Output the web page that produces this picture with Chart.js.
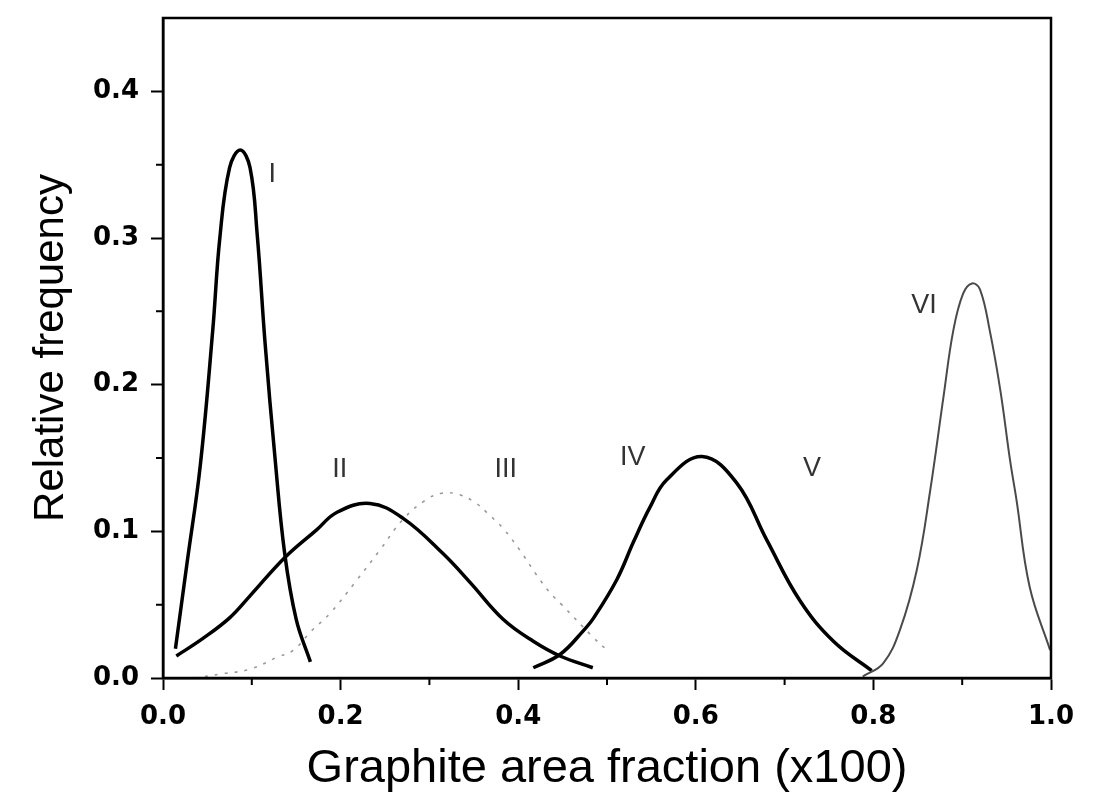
<!DOCTYPE html>
<html>
<head>
<meta charset="utf-8">
<script src="https://cdn.jsdelivr.net/npm/chart.js@4.4.1/dist/chart.umd.min.js"></script>
<style>
  body { margin: 0; background: #fff; }
  #wrap { width: 1095px; height: 800px; }
</style>
</head>
<body>
<div id="wrap"><canvas id="freqChart"></canvas></div>
<script>
// Courbes (x = fraction de graphite, y = fréquence relative)
const curveIX = [0.014, 0.027, 0.042, 0.056, 0.064, 0.075, 0.087, 0.098, 0.106, 0.115, 0.126, 0.137, 0.150, 0.166];
const curveIY = [0.020, 0.078, 0.145, 0.237, 0.300, 0.348, 0.360, 0.348, 0.303, 0.228, 0.151, 0.085, 0.040, 0.011];

const curveIIX = [0.015, 0.045, 0.075, 0.098, 0.137, 0.173, 0.196, 0.233, 0.270, 0.315, 0.346, 0.383, 0.417, 0.447, 0.484];
const curveIIY = [0.015, 0.027, 0.041, 0.056, 0.082, 0.101, 0.113, 0.119, 0.109, 0.085, 0.065, 0.040, 0.025, 0.015, 0.007];

const curveIIIX = [0.036, 0.068, 0.098, 0.128, 0.147, 0.167, 0.188, 0.216, 0.244, 0.270, 0.295, 0.314, 0.334, 0.353, 0.366, 0.383, 0.402, 0.421, 0.436, 0.449, 0.484, 0.500];
const curveIIIY = [0.000, 0.003, 0.006, 0.014, 0.019, 0.032, 0.044, 0.065, 0.087, 0.108, 0.121, 0.126, 0.125, 0.119, 0.112, 0.102, 0.087, 0.070, 0.058, 0.050, 0.028, 0.019];

const curveIVX = [0.417, 0.447, 0.473, 0.485, 0.511, 0.530, 0.548, 0.567, 0.607, 0.646, 0.680, 0.717, 0.755, 0.798];
const curveIVY = [0.007, 0.016, 0.032, 0.041, 0.067, 0.093, 0.116, 0.135, 0.151, 0.133, 0.094, 0.053, 0.025, 0.005];

const curveVIX = [0.788, 0.811, 0.830, 0.849, 0.864, 0.879, 0.890, 0.901, 0.911, 0.920, 0.931, 0.943, 0.954, 0.961, 0.976, 0.999];
const curveVIY = [0.001, 0.010, 0.033, 0.074, 0.128, 0.192, 0.237, 0.262, 0.269, 0.265, 0.237, 0.196, 0.148, 0.122, 0.062, 0.019];

// Étiquettes des courbes
const labelNames = ['I', 'II', 'III', 'IV', 'V', 'VI'];
const labelX = [0.123, 0.199, 0.386, 0.529, 0.731, 0.857];
const labelY = [0.343, 0.142, 0.142, 0.150, 0.143, 0.254];

// Graduations
const xMinorTicks = [0.1, 0.3, 0.5, 0.7, 0.9];
const yMinorTicks = [0.05, 0.15, 0.25, 0.35];

function toPoints(xs, ys) {
    return xs.map((x, i) => ({ x: x, y: ys[i] }));
}

function lineSet(xs, ys, color, width, dash) {
    return {
        data: toPoints(xs, ys),
        borderColor: color,
        borderWidth: width,
        borderDash: dash || [],
        pointRadius: 0,
        fill: false,
        tension: 0.4
    };
}

// Cadre, petites graduations et étiquettes
const framePlugin = {
    id: 'frame',
    afterDatasetsDraw(chart) {
        const ctx = chart.ctx;
        const a = chart.chartArea;
        const xs = chart.scales.x;
        const ys = chart.scales.y;
        ctx.save();
        ctx.strokeStyle = '#000';
        ctx.lineWidth = 2.5;
        ctx.strokeRect(a.left, a.top, a.right - a.left, a.bottom - a.top);

        ctx.lineWidth = 2;
        ctx.beginPath();
        xMinorTicks.forEach(v => {
            const px = xs.getPixelForValue(v);
            ctx.moveTo(px, a.bottom);
            ctx.lineTo(px, a.bottom + 7);
        });
        yMinorTicks.forEach(v => {
            const py = ys.getPixelForValue(v);
            ctx.moveTo(a.left, py);
            ctx.lineTo(a.left - 7, py);
        });
        ctx.stroke();

        ctx.fillStyle = '#333';
        ctx.font = '27px "Liberation Sans", Arial, sans-serif';
        ctx.textAlign = 'center';
        ctx.textBaseline = 'middle';
        labelNames.forEach((name, i) => {
            ctx.fillText(name, xs.getPixelForValue(labelX[i]), ys.getPixelForValue(labelY[i]));
        });
        ctx.restore();
    }
};

const tickFont = { family: '"DejaVu Sans", sans-serif', size: 26, weight: 'bold', lineHeight: 1 };

new Chart(document.getElementById('freqChart'), {
    type: 'line',
    data: {
        datasets: [
            lineSet(curveIIIX, curveIIIY, '#9a9a9a', 1.6, [3, 7]),
            lineSet(curveVIX, curveVIY, '#4a4a4a', 2),
            lineSet(curveIX, curveIY, '#000', 3.5),
            lineSet(curveIIX, curveIIY, '#000', 3.5),
            lineSet(curveIVX, curveIVY, '#000', 3.5)
        ]
    },
    options: {
        responsive: true,
        maintainAspectRatio: false,
        animation: false,
        layout: { padding: { top: 18, right: 44, left: 0, bottom: 0 } },
        plugins: {
            legend: { display: false },
            tooltip: { enabled: false }
        },
        scales: {
            x: {
                type: 'linear',
                min: 0,
                max: 1,
                afterFit(scale) { scale.height = 122; },
                grid: { drawOnChartArea: false, tickLength: 12, tickWidth: 2, tickColor: '#000' },
                border: { color: '#000', width: 2.5 },
                ticks: {
                    stepSize: 0.2,
                    padding: 14,
                    color: '#000',
                    font: tickFont,
                    callback: v => v.toFixed(1)
                },
                title: {
                    display: true,
                    text: 'Graphite area fraction (x100)',
                    color: '#000',
                    font: { family: '"Liberation Sans", Arial, sans-serif', size: 47, lineHeight: 1 },
                    padding: { top: 0, bottom: 7 }
                }
            },
            y: {
                type: 'linear',
                min: 0,
                max: 0.45,
                afterFit(scale) {
                    scale.width = 163;
                    scale.paddingTop = 0;
                    scale.paddingBottom = 0;
                },
                grid: { drawOnChartArea: false, tickLength: 12, tickWidth: 2, tickColor: '#000' },
                border: { color: '#000', width: 2.5 },
                ticks: {
                    stepSize: 0.1,
                    includeBounds: false,
                    padding: 12,
                    color: '#000',
                    font: tickFont,
                    callback: v => v.toFixed(1)
                },
                title: {
                    display: true,
                    text: 'Relative frequency',
                    color: '#000',
                    font: { family: '"Liberation Sans", Arial, sans-serif', size: 42, lineHeight: 1 },
                    padding: { top: 30, bottom: 0 }
                }
            }
        }
    },
    plugins: [framePlugin]
});
</script>
</body>
</html>
